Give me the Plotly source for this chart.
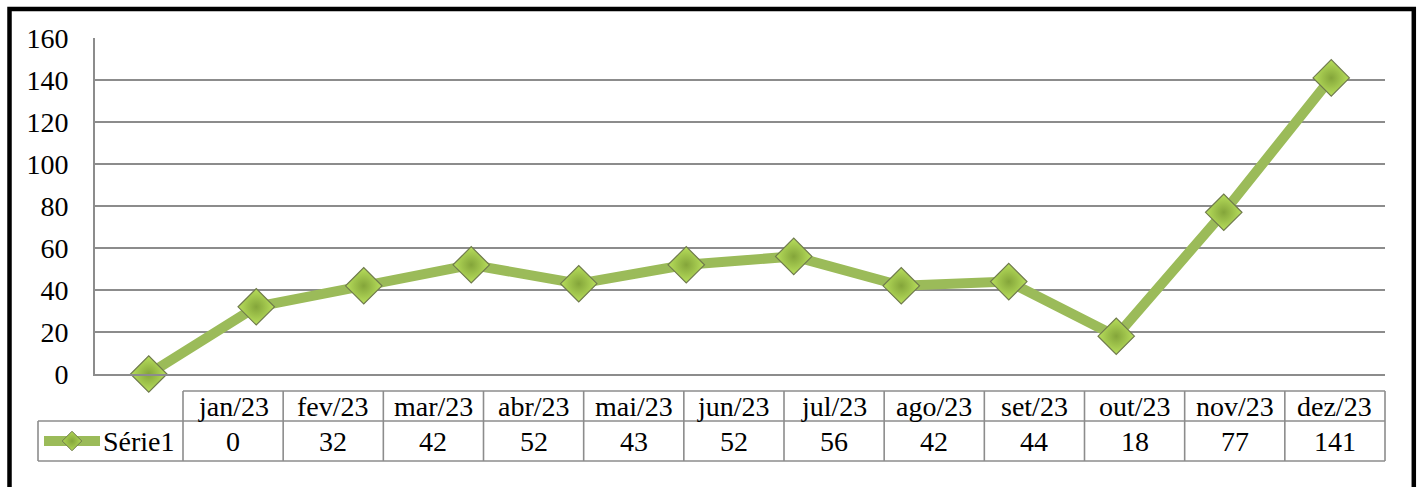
import plotly.graph_objects as go

# ---- data ----
months = ["jan/23", "fev/23", "mar/23", "abr/23", "mai/23", "jun/23",
          "jul/23", "ago/23", "set/23", "out/23", "nov/23", "dez/23"]
serie1 = [0, 32, 42, 52, 43, 52, 56, 42, 44, 18, 77, 141]
series_name = "Série1"
y_ticks = [0, 20, 40, 60, 80, 100, 120, 140, 160]

# ---- layout constants (pixels) ----
W, H = 1419, 487
FONT = "Liberation Serif"
FS = 28
GRID = "#8c8c8c"
GREEN = "#9bbb59"

plot_l, plot_r, plot_t, plot_b = 95, 1385, 38, 374
tab_l, leg_w = 38, 145
tab_data_l = tab_l + leg_w
tab_r = 1385
col_w = (tab_r - tab_data_l) / len(months)
row1_t, row1_b, row2_b = 391, 421, 461


def px(x):
    return x / W


def py(y):
    return 1 - y / H


fig = go.Figure()

# main line series
fig.add_trace(go.Scatter(
    x=months, y=serie1, mode="lines+markers", name=series_name,
    line=dict(color=GREEN, width=10),
    marker=dict(symbol="diamond", size=28, color="#b8df5c",
                gradient=dict(type="radial", color="#84a53a"),
                line=dict(color="#6f7a4c", width=1.2)),
    showlegend=False, cliponaxis=False, hoverinfo="x+y",
))

# legend key inside table (own small axes)
fig.add_trace(go.Scatter(
    x=[0, 1], y=[0, 0], mode="lines", line=dict(color=GREEN, width=10),
    xaxis="x3", yaxis="y3", showlegend=False, hoverinfo="skip",
))
fig.add_trace(go.Scatter(
    x=[0.5], y=[0], mode="markers",
    marker=dict(symbol="diamond", size=15, color="#b0d654",
                gradient=dict(type="radial", color="#84a53a"),
                line=dict(color="#6f7a4c", width=1)),
    xaxis="x3", yaxis="y3", showlegend=False, hoverinfo="skip", cliponaxis=False,
))

shapes = []
annotations = []

# table grid
line_style = dict(color=GRID, width=1.6)
shapes.append(dict(type="line", xref="paper", yref="paper",
                   x0=px(tab_data_l), x1=px(tab_r), y0=py(row1_t), y1=py(row1_t), line=line_style))
shapes.append(dict(type="line", xref="paper", yref="paper",
                   x0=px(tab_l), x1=px(tab_r), y0=py(row1_b), y1=py(row1_b), line=line_style))
shapes.append(dict(type="line", xref="paper", yref="paper",
                   x0=px(tab_l), x1=px(tab_r), y0=py(row2_b), y1=py(row2_b), line=line_style))
shapes.append(dict(type="line", xref="paper", yref="paper",
                   x0=px(tab_l), x1=px(tab_l), y0=py(row1_b), y1=py(row2_b), line=line_style))
for i in range(len(months) + 1):
    xx = tab_data_l + i * col_w
    shapes.append(dict(type="line", xref="paper", yref="paper",
                       x0=px(xx), x1=px(xx), y0=py(row1_t), y1=py(row2_b), line=line_style))

for i, (m, v) in enumerate(zip(months, serie1)):
    cx = tab_data_l + (i + 0.5) * col_w
    annotations.append(dict(x=px(cx), y=py((row1_t + row1_b) / 2), xref="paper", yref="paper",
                            text=m, showarrow=False, xanchor="center", yanchor="middle",
                            font=dict(family=FONT, size=FS, color="black")))
    annotations.append(dict(x=px(cx), y=py((row1_b + row2_b) / 2), xref="paper", yref="paper",
                            text=str(v), showarrow=False, xanchor="center", yanchor="middle",
                            font=dict(family=FONT, size=FS, color="black")))

annotations.append(dict(x=px(101), y=py((row1_b + row2_b) / 2), xref="paper", yref="paper",
                        text=series_name, showarrow=False, xanchor="left", yanchor="middle",
                        font=dict(family=FONT, size=FS, color="black")))

# outer black frame
shapes.append(dict(type="rect", xref="paper", yref="paper",
                   x0=px(9.5), x1=px(1413.8), y0=py(520), y1=py(9),
                   line=dict(color="black", width=4.5)))

fig.update_layout(
    width=W, height=H,
    margin=dict(l=0, r=0, t=0, b=0, pad=0, autoexpand=False),
    paper_bgcolor="white", plot_bgcolor="white",
    font=dict(family=FONT, size=FS, color="black"),
    xaxis=dict(domain=[px(plot_l), px(plot_r)], type="category", automargin=False,
               range=[-0.5, len(months) - 0.5], showticklabels=False,
               showgrid=False, zeroline=False, showline=True,
               linecolor=GRID, linewidth=1.6, fixedrange=True),
    yaxis=dict(domain=[py(plot_b), py(plot_t)], range=[0, 160], automargin=False,
               tickvals=y_ticks, showgrid=True, gridcolor=GRID, gridwidth=1.6,
               zeroline=False, showline=True, linecolor=GRID, linewidth=1.6,
               ticks="", ticklabelstandoff=19,
               tickfont=dict(family=FONT, size=FS, color="black"), fixedrange=True),
    xaxis3=dict(domain=[px(44), px(100)], range=[0, 1], visible=False,
                automargin=False, fixedrange=True),
    yaxis3=dict(domain=[py(451), py(431)], range=[-1, 1], visible=False,
                automargin=False, fixedrange=True),
    shapes=shapes,
    annotations=annotations,
)

post = ("document.body.style.margin='0';"
        "document.documentElement.style.overflow='hidden';"
        "var d=document.getElementById('{plot_id}');"
        "d.style.position='fixed';d.style.left='0px';d.style.top='0px';")

fig.write_html("out.html", post_script=post, config={"displayModeBar": False})
